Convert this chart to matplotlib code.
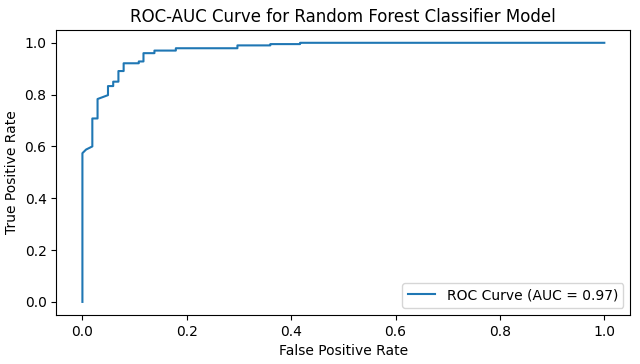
import matplotlib
matplotlib.use('Agg')
import matplotlib.pyplot as plt

# ROC points (step curve)
fpr = [0.0, 0.0, 0.007, 0.019, 0.019, 0.029, 0.029, 0.049, 0.049, 0.059, 0.059,
       0.069, 0.069, 0.079, 0.079, 0.108, 0.108, 0.117, 0.117, 0.138, 0.138,
       0.179, 0.179, 0.297, 0.297, 0.36, 0.36, 0.417, 0.417, 1.0]
tpr = [0.0, 0.574, 0.588, 0.60, 0.708, 0.708, 0.783, 0.798, 0.833, 0.833, 0.85,
       0.85, 0.891, 0.891, 0.921, 0.921, 0.928, 0.928, 0.96, 0.96, 0.97,
       0.97, 0.979, 0.979, 0.99, 0.99, 0.995, 0.995, 1.0, 1.0]
auc_score = 0.97

fig = plt.figure(figsize=(6.4, 3.64), dpi=100)
ax = fig.add_axes([0.088, 0.135, 0.897, 0.783])
ax.plot(fpr, tpr, color='#1f77b4', label=f'ROC Curve (AUC = {auc_score:.2f})')
ax.set_title('ROC-AUC Curve for Random Forest Classifier Model')
ax.set_xlabel('False Positive Rate')
ax.set_ylabel('True Positive Rate')
ax.legend(loc='lower right')

plt.savefig('out.png', dpi=100)
